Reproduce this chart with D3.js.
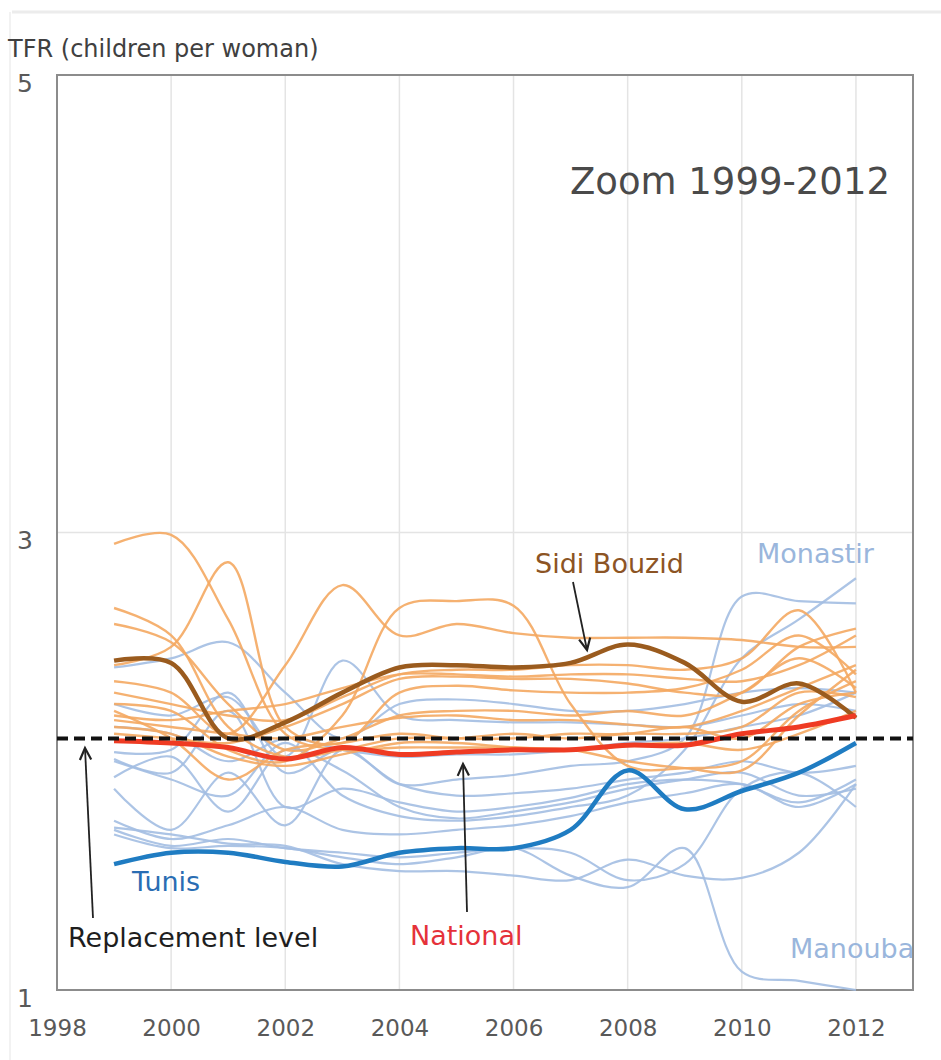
<!DOCTYPE html>
<html>
<head>
<meta charset="utf-8">
<script src="https://cdn.jsdelivr.net/npm/d3@7"></script>
<style>
    body { margin: 0; background: #fff; }
    text { font-family: "DejaVu Sans", Verdana, sans-serif; }
</style>
</head>
<body>
<div id="chart"></div>
<script>
// years on the x axis
let years = [1999, 2000, 2001, 2002, 2003, 2004, 2005, 2006, 2007, 2008, 2009, 2010, 2011, 2012];
let xTicks = [1998, 2000, 2002, 2004, 2006, 2008, 2010, 2012];
let yTicks = [1, 3, 5];
let replacementLevel = 2.1;

// highlighted series
let national = [2.09, 2.08, 2.06, 2.01, 2.06, 2.03, 2.04, 2.05, 2.05, 2.07, 2.07, 2.12, 2.15, 2.20];
let tunis = [1.55, 1.60, 1.60, 1.56, 1.54, 1.60, 1.62, 1.62, 1.70, 1.96, 1.79, 1.87, 1.95, 2.08];
let sidiBouzid = [2.44, 2.43, 2.10, 2.17, 2.30, 2.41, 2.42, 2.41, 2.43, 2.51, 2.43, 2.26, 2.34, 2.19];

// other governorates, inland (orange)
let orangeSeries = [
    [2.95, 2.99, 2.62, 2.12, 2.05, 2.06, 2.06, 2.06, 2.05, 2.07, 2.08, 2.05, 2.12, 2.22],
    [2.42, 2.50, 2.87, 2.15, 2.08, 2.30, 2.33, 2.31, 2.30, 2.30, 2.32, 2.40, 2.55, 2.38],
    [2.35, 2.30, 2.12, 2.42, 2.77, 2.55, 2.60, 2.56, 2.54, 2.54, 2.54, 2.53, 2.50, 2.50],
    [2.67, 2.55, 2.15, 2.02, 2.05, 2.10, 2.10, 2.12, 2.10, 2.12, 2.12, 2.15, 2.30, 2.28],
    [2.60, 2.52, 2.25, 2.05, 2.10, 2.20, 2.22, 2.22, 2.20, 2.22, 2.20, 2.30, 2.45, 2.32],
    [2.25, 2.22, 2.05, 2.00, 2.20, 2.67, 2.70, 2.68, 2.25, 1.98, 1.97, 2.00, 2.22, 2.35],
    [2.30, 2.25, 2.20, 2.18, 2.28, 2.38, 2.40, 2.40, 2.42, 2.42, 2.40, 2.45, 2.66, 2.30],
    [2.20, 2.18, 2.22, 2.25, 2.32, 2.38, 2.38, 2.37, 2.38, 2.38, 2.36, 2.35, 2.42, 2.55],
    [2.12, 2.10, 2.08, 2.15, 2.25, 2.36, 2.37, 2.36, 2.36, 2.34, 2.30, 2.30, 2.50, 2.58],
    [2.18, 2.15, 2.12, 2.10, 2.15, 2.19, 2.20, 2.18, 2.18, 2.16, 2.15, 2.22, 2.32, 2.42],
    [2.22, 2.10, 1.92, 2.05, 2.08, 2.12, 2.10, 2.10, 2.12, 2.12, 2.15, 2.10, 2.25, 2.30],
    [2.15, 2.12, 2.02, 1.98, 2.03, 2.08, 2.08, 2.06, 2.05, 2.00, 1.97, 1.96, 2.20, 2.40]
];

// other governorates, coastal (light blue)
let blueSeries = [
    [2.41, 2.45, 2.52, 2.30, 2.10, 2.25, 2.27, 2.25, 2.22, 2.22, 2.25, 2.30, 2.32, 2.30],
    [2.25, 2.20, 2.28, 2.02, 2.44, 2.20, 2.18, 2.17, 2.17, 2.16, 2.15, 2.20, 2.25, 2.22],
    [2.04, 2.05, 2.30, 1.95, 2.05, 1.90, 1.85, 1.86, 1.88, 1.92, 1.95, 2.00, 1.95, 1.98],
    [2.01, 1.95, 2.22, 1.80, 1.88, 1.82, 1.78, 1.80, 1.84, 1.90, 1.92, 1.90, 1.82, 1.92],
    [1.93, 2.02, 1.78, 2.05, 1.96, 1.80, 1.75, 1.78, 1.82, 1.88, 1.92, 1.95, 1.85, 1.88],
    [1.88, 1.70, 1.95, 1.72, 2.05, 1.90, 1.92, 1.94, 1.98, 2.00, 2.10, 2.72, 2.70, 2.69],
    [2.00, 1.92, 1.85, 2.08, 1.85, 1.76, 1.74, 1.76, 1.80, 1.85, 2.05, 2.45, 2.62, 2.80],
    [1.74, 1.66, 1.72, 1.80, 1.70, 1.68, 1.70, 1.72, 1.76, 1.82, 1.86, 1.90, 1.80, 1.90],
    [1.70, 1.63, 1.66, 1.62, 1.60, 1.58, 1.60, 1.62, 1.60, 1.48, 1.55, 1.88, 1.95, 1.80],
    [1.68, 1.62, 1.63, 1.62, 1.58, 1.55, 1.58, 1.62, 1.50, 1.45, 1.62, 1.08, 1.04, 1.00],
    [1.71, 1.68, 1.64, 1.63, 1.55, 1.52, 1.52, 1.50, 1.48, 1.57, 1.50, 1.49, 1.60, 1.90],
    [2.15, 2.12, 2.00, 2.10, 2.05, 2.02, 2.03, 2.03, 2.05, 2.08, 2.10, 2.15, 2.20, 2.30]
];

let width = 941, height = 1060;
let margin = {top: 75, right: 28, bottom: 70, left: 57};

let svg = d3.select("#chart").append("svg")
    .attr("width", width)
    .attr("height", height);

// faint frame of the original screenshot
svg.append("line").attr("x1", 12).attr("x2", width).attr("y1", 12).attr("y2", 12)
    .attr("stroke", "#ececec").attr("stroke-width", 3);
svg.append("line").attr("x1", 10).attr("x2", 10).attr("y1", 12).attr("y2", height)
    .attr("stroke", "#f2f2f2").attr("stroke-width", 2);

let x = d3.scaleLinear()
    .domain([1998, 2013])
    .range([margin.left, width - margin.right]);

let y = d3.scaleLinear()
    .domain([1, 5])
    .range([height - margin.bottom, margin.top]);

// grid
svg.append("g").selectAll("line").data(xTicks.filter(d => d > 1998))
    .enter().append("line")
    .attr("x1", d => x(d)).attr("x2", d => x(d))
    .attr("y1", y(5)).attr("y2", y(1))
    .attr("stroke", "#e4e4e4").attr("stroke-width", 1.5);

svg.append("line")
    .attr("x1", x(1998)).attr("x2", x(2013))
    .attr("y1", y(3)).attr("y2", y(3))
    .attr("stroke", "#e4e4e4").attr("stroke-width", 1.5);

// axes
let xAxis = svg.append("g")
    .attr("transform", "translate(0," + y(1) + ")")
    .call(d3.axisBottom(x).tickValues(xTicks).tickFormat(d3.format("d")).tickSize(0).tickPadding(30));
xAxis.select(".domain").remove();
xAxis.selectAll("text").attr("font-size", "23px").attr("fill", "#595959")
    .style("font-family", "'DejaVu Sans', Verdana, sans-serif");

let yAxis = svg.append("g")
    .attr("transform", "translate(" + margin.left + ",0)")
    .call(d3.axisLeft(y).tickValues(yTicks).tickFormat(d3.format("d")).tickSize(0).tickPadding(24));
yAxis.select(".domain").remove();
yAxis.selectAll("text").attr("font-size", "25px").attr("fill", "#595959")
    .attr("dy", "0.65em")
    .style("font-family", "'DejaVu Sans', Verdana, sans-serif");

// frame
svg.append("rect")
    .attr("x", x(1998)).attr("y", y(5))
    .attr("width", x(2013) - x(1998))
    .attr("height", y(1) - y(5))
    .attr("fill", "none")
    .attr("stroke", "#8c8c8c")
    .attr("stroke-width", 2);

svg.append("text")
    .attr("x", 8).attr("y", 57)
    .attr("font-size", "24px").attr("fill", "#404040")
    .text("TFR (children per woman)");

svg.append("text")
    .attr("x", 890).attr("y", 194)
    .attr("text-anchor", "end")
    .attr("font-size", "37px").attr("fill", "#4a4a4a")
    .text("Zoom 1999-2012");

let line = d3.line()
    .x((d, i) => x(years[i]))
    .y(d => y(d))
    .curve(d3.curveCatmullRom.alpha(0.5));

svg.append("g").selectAll("path").data(blueSeries)
    .enter().append("path")
    .attr("d", line)
    .attr("fill", "none")
    .attr("stroke", "#a3bee2")
    .attr("stroke-opacity", 0.9)
    .attr("stroke-width", 2.2);

svg.append("g").selectAll("path").data(orangeSeries)
    .enter().append("path")
    .attr("d", line)
    .attr("fill", "none")
    .attr("stroke", "#f4a862")
    .attr("stroke-opacity", 0.9)
    .attr("stroke-width", 2.4);

svg.append("path").datum(tunis)
    .attr("d", line).attr("fill", "none")
    .attr("stroke", "#1f7cc2").attr("stroke-width", 4.5);

svg.append("path").datum(sidiBouzid)
    .attr("d", line).attr("fill", "none")
    .attr("stroke", "#9a5b1e").attr("stroke-width", 4.5);

svg.append("path").datum(national)
    .attr("d", line).attr("fill", "none")
    .attr("stroke", "#ef3b23").attr("stroke-width", 5);

// replacement level
svg.append("line")
    .attr("x1", x(1998)).attr("x2", x(2013))
    .attr("y1", y(replacementLevel)).attr("y2", y(replacementLevel))
    .attr("stroke", "#111").attr("stroke-width", 4)
    .attr("stroke-dasharray", "11,6");

// labels
let labels = [
    {text: "Sidi Bouzid", x: 535, y: 573, color: "#8c5424"},
    {text: "Monastir", x: 757, y: 563, color: "#9ab6dc"},
    {text: "Tunis", x: 132, y: 891, color: "#2a6db3"},
    {text: "Replacement level", x: 68, y: 947, color: "#1e1e1e"},
    {text: "National", x: 410, y: 945, color: "#e5323a"},
    {text: "Manouba", x: 790, y: 958, color: "#9ab6dc"}
];
svg.append("g").selectAll("text").data(labels)
    .enter().append("text")
    .attr("x", d => d.x).attr("y", d => d.y)
    .attr("font-size", "27px")
    .attr("fill", d => d.color)
    .text(d => d.text);

// arrows
let arrows = [
    {x1: 573, y1: 582, x2: 587, y2: 650},
    {x1: 93, y1: 918, x2: 85, y2: 748},
    {x1: 467, y1: 912, x2: 463, y2: 764}
];
let arrowG = svg.append("g").selectAll("g").data(arrows).enter().append("g");
arrowG.append("line")
    .attr("x1", d => d.x1).attr("y1", d => d.y1)
    .attr("x2", d => d.x2).attr("y2", d => d.y2)
    .attr("stroke", "#222").attr("stroke-width", 1.8);
arrowG.append("path")
    .attr("d", function (d) {
        let a = Math.atan2(d.y2 - d.y1, d.x2 - d.x1);
        let len = 13, spread = 0.45;
        let p1 = [d.x2 - len * Math.cos(a - spread), d.y2 - len * Math.sin(a - spread)];
        let p2 = [d.x2 - len * Math.cos(a + spread), d.y2 - len * Math.sin(a + spread)];
        return "M" + p1 + "L" + d.x2 + "," + d.y2 + "L" + p2;
    })
    .attr("fill", "none")
    .attr("stroke", "#222").attr("stroke-width", 2.2);
</script>
</body>
</html>
